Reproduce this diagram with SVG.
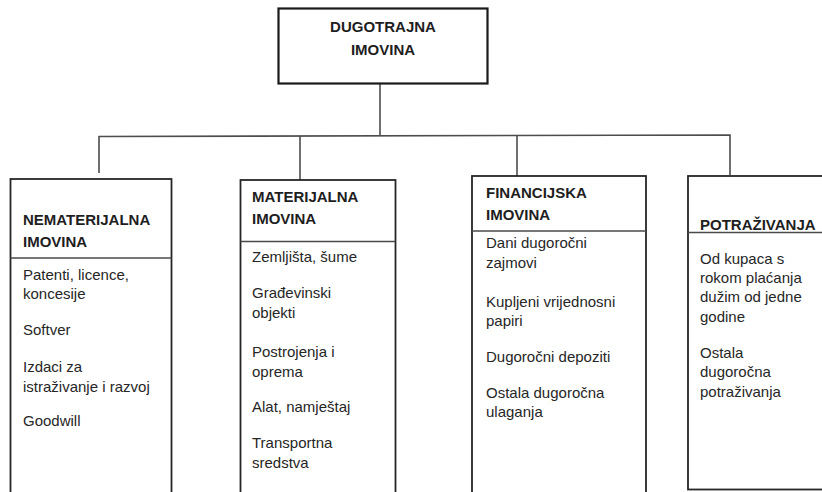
<svg xmlns="http://www.w3.org/2000/svg" width="822" height="492" viewBox="0 0 822 492">
<style>
  .box { fill: #ffffff; stroke: #262626; stroke-width: 1.8; }
  .sep { stroke: #4a4a4a; stroke-width: 1.3; fill: none; }
  .conn { stroke: #4d4d4d; stroke-width: 1.6; fill: none; }
  .h { font-family: "Liberation Sans", Arial, sans-serif; font-size: 15px; font-weight: bold; fill: #1e1e1e; }
  .t { font-family: "Liberation Sans", Arial, sans-serif; font-size: 15px; fill: #262626; }
</style>
<rect width="822" height="492" fill="#ffffff"/>
<g id="connectors">
  <line class="conn" x1="380" y1="83" x2="380" y2="136"/>
  <polyline class="conn" points="99,173 99,136.5 730,135 730,175"/>
  <line class="conn" x1="300" y1="136" x2="300" y2="180"/>
  <line class="conn" x1="517" y1="135.5" x2="517" y2="176"/>
</g>
<g id="dugotrajna">
  <rect x="278.5" y="8.5" width="209" height="75" fill="#ffffff" stroke="#1a1a1a" stroke-width="2.2"/>
  <text class="h" x="383" y="32" text-anchor="middle">DUGOTRAJNA</text>
  <text class="h" x="383" y="55" text-anchor="middle">IMOVINA</text>
</g>
<g id="nematerijalna">
  <rect class="box" x="10.5" y="179" width="161" height="330"/>
  <line class="sep" x1="10.5" y1="258" x2="171.5" y2="258"/>
  <text class="h" x="23" y="225">NEMATERIJALNA</text>
  <text class="h" x="23" y="247">IMOVINA</text>
  <text class="t" x="23" y="280">Patenti, licence,</text>
  <text class="t" x="23" y="299">koncesije</text>
  <text class="t" x="23" y="335">Softver</text>
  <text class="t" x="23" y="372">Izdaci za</text>
  <text class="t" x="23" y="391.5">istraživanje i razvoj</text>
  <text class="t" x="23" y="426">Goodwill</text>
</g>
<g id="materijalna">
  <rect class="box" x="240.5" y="180" width="155" height="330"/>
  <line class="sep" x1="240.5" y1="241.5" x2="395.5" y2="241.5"/>
  <text class="h" x="252" y="202">MATERIJALNA</text>
  <text class="h" x="252" y="224">IMOVINA</text>
  <text class="t" x="252" y="262">Zemljišta, šume</text>
  <text class="t" x="252" y="298">Građevinski</text>
  <text class="t" x="252" y="318">objekti</text>
  <text class="t" x="252" y="356.5">Postrojenja i</text>
  <text class="t" x="252" y="376.5">oprema</text>
  <text class="t" x="252" y="411.5">Alat, namještaj</text>
  <text class="t" x="252" y="448">Transportna</text>
  <text class="t" x="252" y="468">sredstva</text>
</g>
<g id="financijska">
  <rect class="box" x="472" y="176" width="174" height="334"/>
  <line class="sep" x1="472" y1="231" x2="646" y2="231"/>
  <text class="h" x="486" y="197.5">FINANCIJSKA</text>
  <text class="h" x="486" y="220">IMOVINA</text>
  <text class="t" x="486" y="248">Dani dugoročni</text>
  <text class="t" x="486" y="267.5">zajmovi</text>
  <text class="t" x="486" y="306.5">Kupljeni vrijednosni</text>
  <text class="t" x="486" y="326">papiri</text>
  <text class="t" x="486" y="361.5">Dugoročni depoziti</text>
  <text class="t" x="486" y="397.5">Ostala dugoročna</text>
  <text class="t" x="486" y="417">ulaganja</text>
</g>
<g id="potrazivanja">
  <rect class="box" x="688" y="176" width="140" height="313.5"/>
  <line class="sep" x1="688" y1="232.5" x2="822" y2="232.5"/>
  <text class="h" x="700" y="229.5">POTRAŽIVANJA</text>
  <text class="t" x="700" y="264">Od kupaca s</text>
  <text class="t" x="700" y="283">rokom plaćanja</text>
  <text class="t" x="700" y="302">dužim od jedne</text>
  <text class="t" x="700" y="321.5">godine</text>
  <text class="t" x="700" y="358">Ostala</text>
  <text class="t" x="700" y="377">dugoročna</text>
  <text class="t" x="700" y="396.5">potraživanja</text>
</g>
</svg>
